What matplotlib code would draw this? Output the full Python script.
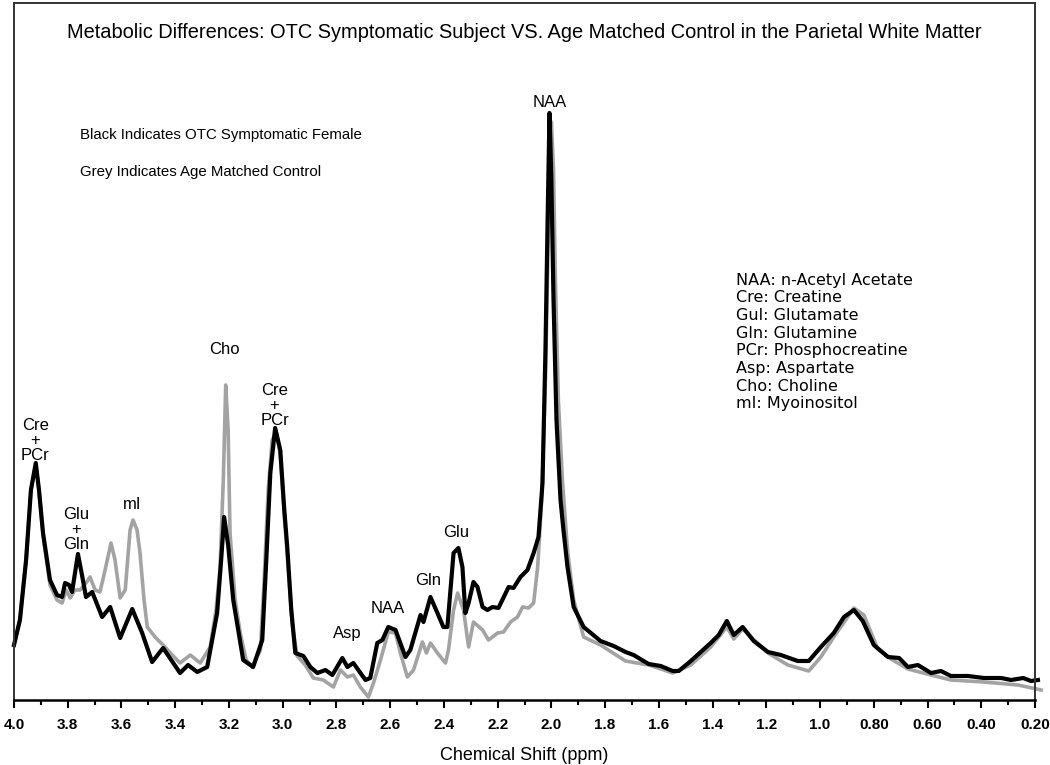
import matplotlib
matplotlib.use("Agg")
from matplotlib import pyplot as plt
from matplotlib.ticker import MultipleLocator

# ppm / intensity (arbitrary units)
subject_ppm = [4.000, 3.978, 3.955, 3.937, 3.919, 3.907, 3.892, 3.866, 3.840, 3.821,
               3.810, 3.795, 3.784, 3.762, 3.747, 3.732, 3.709, 3.672, 3.642, 3.605,
               3.560, 3.523, 3.486, 3.445, 3.382, 3.352, 3.318, 3.281, 3.244, 3.229,
               3.218, 3.203, 3.184, 3.147, 3.110, 3.076, 3.061, 3.046, 3.028, 3.009,
               2.994, 2.983, 2.968, 2.953, 2.923, 2.897, 2.871, 2.841, 2.815, 2.778,
               2.759, 2.737, 2.692, 2.674, 2.648, 2.629, 2.607, 2.580, 2.543, 2.525,
               2.487, 2.476, 2.450, 2.424, 2.402, 2.387, 2.364, 2.346, 2.331, 2.320,
               2.308, 2.290, 2.275, 2.256, 2.238, 2.219, 2.197, 2.159, 2.141, 2.115,
               2.089, 2.066, 2.048, 2.033, 2.022, 2.014, 2.007, 2.000, 1.992, 1.981,
               1.966, 1.955, 1.940, 1.917, 1.880, 1.817, 1.768, 1.724, 1.694, 1.638,
               1.593, 1.548, 1.526, 1.481, 1.407, 1.377, 1.347, 1.321, 1.288, 1.247,
               1.194, 1.146, 1.083, 1.042, 0.997, 0.949, 0.911, 0.874, 0.841, 0.800,
               0.747, 0.706, 0.673, 0.636, 0.587, 0.550, 0.513, 0.449, 0.390, 0.326,
               0.289, 0.244, 0.215, 0.189]
subject_int = [55, 80, 140, 210, 237, 210, 167, 120, 105, 103,
               117, 115, 108, 146, 125, 103, 108, 83, 93, 62,
               91, 67, 38, 52, 27, 35, 28, 33, 87, 140,
               183, 155, 100, 40, 33, 60, 140, 227, 272, 250,
               190, 153, 90, 47, 44, 33, 27, 30, 25, 42,
               33, 37, 20, 22, 57, 60, 73, 70, 43, 50,
               85, 78, 103, 87, 73, 73, 147, 152, 133, 87,
               97, 118, 113, 93, 90, 93, 92, 113, 112, 123,
               130, 147, 163, 217, 350, 480, 587, 520, 400, 280,
               200, 170, 133, 93, 73, 59, 54, 48, 45, 36,
               34, 29, 29, 39, 57, 65, 79, 65, 73, 59,
               48, 45, 39, 39, 53, 67, 83, 90, 79, 55,
               43, 42, 33, 35, 27, 29, 24, 24, 22, 22,
               20, 22, 19, 20]

control_ppm = [4.000, 3.978, 3.955, 3.937, 3.919, 3.907, 3.892, 3.866, 3.840, 3.821,
               3.806, 3.791, 3.773, 3.754, 3.732, 3.717, 3.698, 3.680, 3.661, 3.639,
               3.624, 3.605, 3.586, 3.568, 3.557, 3.542, 3.531, 3.516, 3.504, 3.475,
               3.445, 3.411, 3.382, 3.344, 3.307, 3.270, 3.248, 3.233, 3.221, 3.212,
               3.203, 3.196, 3.177, 3.158, 3.136, 3.113, 3.083, 3.069, 3.054, 3.039,
               3.024, 3.009, 2.994, 2.979, 2.964, 2.946, 2.916, 2.886, 2.849, 2.811,
               2.785, 2.759, 2.737, 2.711, 2.681, 2.662, 2.636, 2.607, 2.580, 2.562,
               2.536, 2.513, 2.480, 2.465, 2.450, 2.424, 2.394, 2.383, 2.364, 2.349,
               2.327, 2.308, 2.290, 2.256, 2.234, 2.200, 2.178, 2.152, 2.126, 2.107,
               2.085, 2.066, 2.051, 2.036, 2.022, 2.011, 2.000, 1.992, 1.985, 1.974,
               1.959, 1.940, 1.917, 1.880, 1.817, 1.724, 1.638, 1.548, 1.481, 1.407,
               1.347, 1.321, 1.288, 1.194, 1.120, 1.042, 0.997, 0.949, 0.874, 0.837,
               0.785, 0.736, 0.673, 0.587, 0.513, 0.390, 0.263, 0.177]
control_int = [55, 80, 140, 210, 235, 210, 165, 115, 100, 97,
               110, 102, 110, 110, 117, 123, 110, 108, 130, 157,
               140, 102, 110, 170, 180, 170, 147, 100, 73, 63,
               55, 45, 37, 45, 37, 53, 90, 133, 220, 315,
               270, 167, 100, 67, 40, 33, 50, 120, 210, 260,
               268, 245, 185, 130, 75, 44, 35, 22, 20, 13,
               30, 23, 25, 13, 3, 17, 40, 68, 67, 47,
               23, 30, 58, 47, 57, 47, 37, 50, 90, 107,
               90, 53, 78, 70, 60, 67, 68, 78, 83, 93,
               92, 97, 133, 200, 320, 470, 578, 530, 420, 300,
               220, 150, 100, 63, 55, 39, 35, 27, 35, 53,
               73, 61, 71, 47, 35, 29, 43, 63, 92, 85,
               51, 41, 31, 25, 20, 18, 15, 10]

tick_vals = [4.0, 3.8, 3.6, 3.4, 3.2, 3.0, 2.8, 2.6, 2.4, 2.2, 2.0,
             1.8, 1.6, 1.4, 1.2, 1.0, 0.8, 0.6, 0.4, 0.2]
tick_labels = ["4.0", "3.8", "3.6", "3.4", "3.2", "3.0", "2.8", "2.6", "2.4", "2.2", "2.0",
               "1.8", "1.6", "1.4", "1.2", "1.0", "0.80", "0.60", "0.40", "0.20"]

# peak labels: text, ppm, height
peak_names = ["Cre\n+\nPCr", "Glu\n+\nGln", "mI", "Cho", "Cre\n+\nPCr",
              "Asp", "NAA", "Gln", "Glu", "NAA"]
peak_ppm = [3.92, 3.77, 3.56, 3.215, 3.03, 2.76, 2.61, 2.46, 2.355, 2.007]
peak_y = [237, 148, 188, 343, 272, 59, 84, 112, 160, 590]

key_lines = ["NAA: n-Acetyl Acetate", "Cre: Creatine", "Gul: Glutamate",
             "Gln: Glutamine", "PCr: Phosphocreatine", "Asp: Aspartate",
             "Cho: Choline", "mI: Myoinositol"]

arial = ["Liberation Sans", "DejaVu Sans"]

fig = plt.figure(figsize=(10.5, 7.65), dpi=100)
ax = fig.add_axes([14 / 1050, 1 - 700 / 765, 1021 / 1050, 697 / 765])

ax.plot(control_ppm, control_int, '-', color='#a3a3a3', lw=2.6, clip_on=False,
        solid_joinstyle='round')
ax.plot(subject_ppm, subject_int, '-', color='black', lw=3.0, clip_on=False,
        solid_joinstyle='round')

ax.set_xlim(4.0, 0.2)
ax.set_ylim(0, 697)
ax.set_yticks([])
ax.set_xticks(tick_vals)
ax.set_xticklabels(tick_labels, family=arial, fontsize=11, fontweight='bold')
ax.xaxis.set_minor_locator(MultipleLocator(0.1))
ax.tick_params(axis='x', which='major', direction='out', length=6, width=1.5, pad=7)
ax.tick_params(axis='x', which='minor', direction='out', length=3.5, width=1.5)
for s in ['left', 'top', 'right']:
    ax.spines[s].set_color('#333333')
    ax.spines[s].set_linewidth(1.4)
ax.spines['bottom'].set_linewidth(1.8)

ax.set_xlabel("Chemical Shift (ppm)", family=arial, fontsize=13, labelpad=11)

ax.text(0.5, 0.958, "Metabolic Differences: OTC Symptomatic Subject VS. Age Matched Control in the Parietal White Matter",
        transform=ax.transAxes, ha='center', va='center', family=arial, fontsize=14.4)
ax.text(66 / 1021, 0.81, "Black Indicates OTC Symptomatic Female",
        transform=ax.transAxes, ha='left', va='center', family=arial, fontsize=10.8)
ax.text(66 / 1021, 0.757, "Grey Indicates Age Matched Control",
        transform=ax.transAxes, ha='left', va='center', family=arial, fontsize=10.8)

for name, p, y in zip(peak_names, peak_ppm, peak_y):
    ax.text(p, y, name, ha='center', va='bottom', family=arial, fontsize=12,
            linespacing=1.0)

for i, line in enumerate(key_lines):
    ax.text(722 / 1021, (700 - 280 - i * 17.7) / 697, line, transform=ax.transAxes,
            ha='left', va='center', family='DejaVu Sans', fontsize=11.5)

fig.savefig("out.png", dpi=100)
